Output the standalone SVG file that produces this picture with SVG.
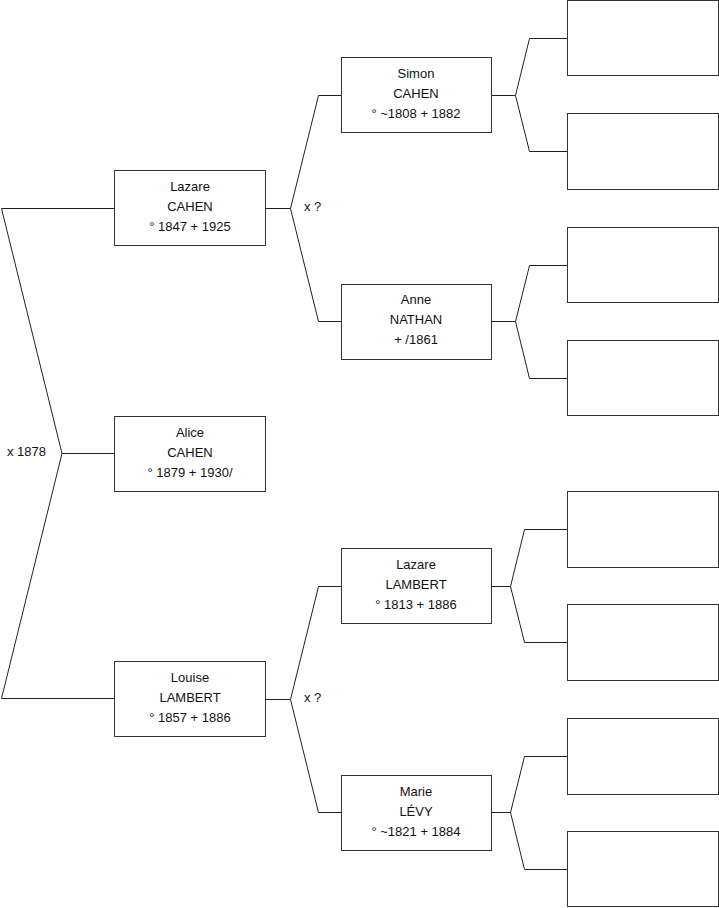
<svg xmlns="http://www.w3.org/2000/svg" width="719" height="908" viewBox="0 0 719 908">
<style>
.bg{fill:#fff}
.box{fill:#fff;stroke:#333;stroke-width:1}
.ln{fill:none;stroke:#222;stroke-width:1}
text{font-family:"Liberation Sans",Arial,sans-serif;font-size:13px;fill:#111}
.c{text-anchor:middle}
</style>
<rect class="bg" x="0" y="0" width="719" height="908"/>
<g id="connectors">
<polyline class="ln" points="114.5,208.5 1.5,208.5 62,453.5 1.5,698.5 114.5,698.5"/>
<line class="ln" x1="62" y1="453.5" x2="114.5" y2="453.5"/>
<polyline class="ln" points="341.5,95.5 318.5,95.5 290.5,208.5 318.5,321.5 341.5,321.5"/>
<line class="ln" x1="265.5" y1="208.5" x2="290.5" y2="208.5"/>
<polyline class="ln" points="341.5,586.5 318.5,586.5 290.5,699.5 318.5,812.5 341.5,812.5"/>
<line class="ln" x1="265.5" y1="699.5" x2="290.5" y2="699.5"/>
<polyline class="ln" points="567.5,38.5 529.5,38.5 515.5,95.5 529.5,151.5 567.5,151.5"/>
<line class="ln" x1="491.5" y1="95.5" x2="515.5" y2="95.5"/>
<polyline class="ln" points="567.5,265.5 529.5,265.5 515.5,321.5 529.5,378.5 567.5,378.5"/>
<line class="ln" x1="491.5" y1="321.5" x2="515.5" y2="321.5"/>
<polyline class="ln" points="567.5,529.5 524.5,529.5 510.5,586.5 524.5,642.5 567.5,642.5"/>
<line class="ln" x1="491.5" y1="586.5" x2="510.5" y2="586.5"/>
<polyline class="ln" points="567.5,756.5 524.5,756.5 510.5,812.5 524.5,869.5 567.5,869.5"/>
<line class="ln" x1="491.5" y1="812.5" x2="510.5" y2="812.5"/>
<text x="7" y="456">x 1878</text>
<text x="304" y="211">x ?</text>
<text x="304" y="702">x ?</text>
</g>
<g id="lazare-cahen">
<rect class="box" x="114.5" y="170.5" width="151" height="75"/>
<text class="c" x="190" y="191">Lazare</text>
<text class="c" x="190" y="211">CAHEN</text>
<text class="c" x="190" y="231">° 1847 + 1925</text>
</g>
<g id="alice-cahen">
<rect class="box" x="114.5" y="416.5" width="151" height="75"/>
<text class="c" x="190" y="437">Alice</text>
<text class="c" x="190" y="457">CAHEN</text>
<text class="c" x="190" y="477">° 1879 + 1930/</text>
</g>
<g id="louise-lambert">
<rect class="box" x="114.5" y="661.5" width="151" height="75"/>
<text class="c" x="190" y="682">Louise</text>
<text class="c" x="190" y="702">LAMBERT</text>
<text class="c" x="190" y="722">° 1857 + 1886</text>
</g>
<g id="simon-cahen">
<rect class="box" x="341.5" y="57.5" width="150" height="75"/>
<text class="c" x="416" y="78">Simon</text>
<text class="c" x="416" y="98">CAHEN</text>
<text class="c" x="416" y="118">° ~1808 + 1882</text>
</g>
<g id="anne-nathan">
<rect class="box" x="341.5" y="284.5" width="150" height="75"/>
<text class="c" x="416" y="304">Anne</text>
<text class="c" x="416" y="324">NATHAN</text>
<text class="c" x="416" y="344"> + /1861</text>
</g>
<g id="lazare-lambert">
<rect class="box" x="341.5" y="548.5" width="150" height="75"/>
<text class="c" x="416" y="569">Lazare</text>
<text class="c" x="416" y="589">LAMBERT</text>
<text class="c" x="416" y="609">° 1813 + 1886</text>
</g>
<g id="marie-levy">
<rect class="box" x="341.5" y="775.5" width="150" height="75"/>
<text class="c" x="416" y="796">Marie</text>
<text class="c" x="416" y="816">LÉVY</text>
<text class="c" x="416" y="836">° ~1821 + 1884</text>
</g>
<g id="empty-1"><rect class="box" x="567.5" y="0.5" width="151" height="75"/></g>
<g id="empty-2"><rect class="box" x="567.5" y="113.5" width="151" height="76"/></g>
<g id="empty-3"><rect class="box" x="567.5" y="227.5" width="151" height="75"/></g>
<g id="empty-4"><rect class="box" x="567.5" y="340.5" width="151" height="75"/></g>
<g id="empty-5"><rect class="box" x="567.5" y="491.5" width="151" height="76"/></g>
<g id="empty-6"><rect class="box" x="567.5" y="604.5" width="151" height="76"/></g>
<g id="empty-7"><rect class="box" x="567.5" y="718.5" width="151" height="76"/></g>
<g id="empty-8"><rect class="box" x="567.5" y="831.5" width="151" height="75"/></g>
</svg>
